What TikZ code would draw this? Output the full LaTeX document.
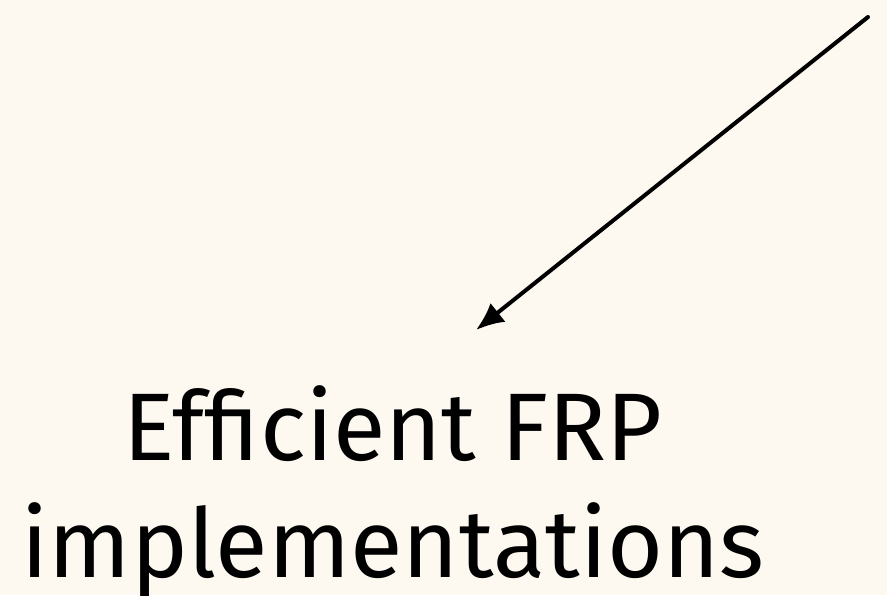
\documentclass[tikz,border=0pt]{standalone}
\usepackage{fontspec}
\setmainfont{Fira Sans}
\usetikzlibrary{arrows.meta}
\definecolor{paper}{RGB}{253,248,240}

\begin{document}
\begin{tikzpicture}[x=1pt,y=-1pt,>={Latex[length=28pt,width=24pt]},line cap=round]

        \fill[paper] (0,0) rectangle (887,595);
        \useasboundingbox (0,0) rectangle (887,595);

        \node[align=center,inner sep=0pt,anchor=base,font=\fontsize{96}{117}\selectfont] (impl) at (393,577) {Efficient FRP\\implementations};

        \coordinate (from) at (868,17);
        \coordinate (into) at (476,330);
        \draw[->,line width=4pt] (from) -- (into);
\end{tikzpicture}
\end{document}
